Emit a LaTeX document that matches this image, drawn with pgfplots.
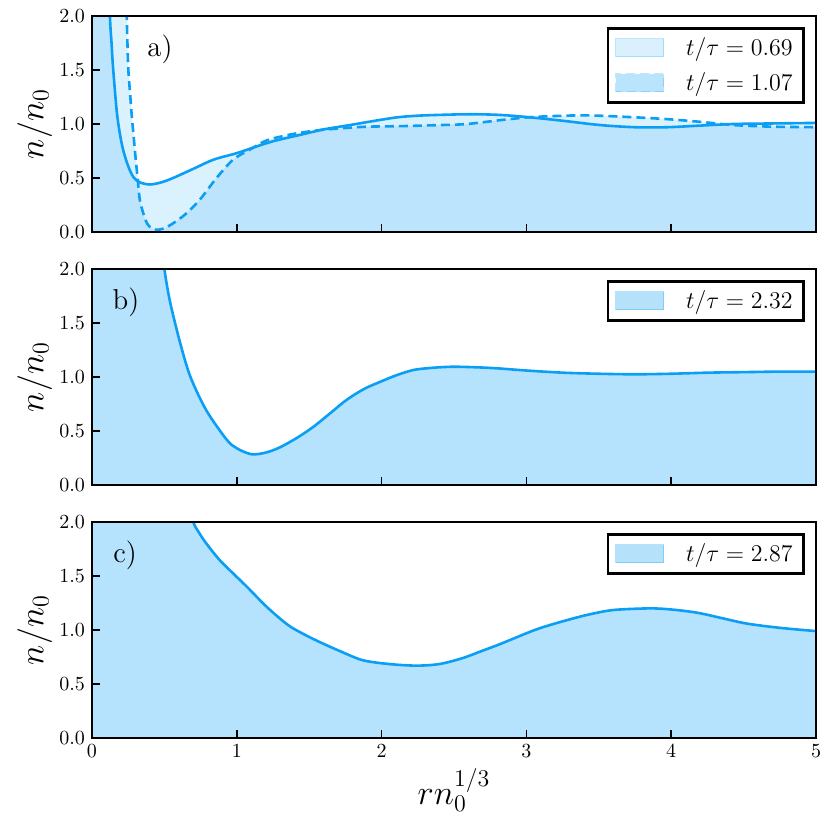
\documentclass[border=0pt]{standalone}
\usepackage{pgfplots}
\pgfplotsset{compat=1.18}
\definecolor{cblue}{RGB}{10,158,245}
\pgfplotsset{
 myaxis/.style={scale only axis, width=362pt, height=108pt,
  xmin=0,xmax=5,ymin=0,ymax=2,
  xtick={0,1,2,3,4,5}, ytick={0,0.5,1,1.5,2},
  tick align=inside, xtick pos=bottom, ytick pos=left,
  major tick length=4pt,
  axis line style={line width=1pt},
  tick style={line width=0.8pt, color=black},
  yticklabel style={/pgf/number format/fixed, /pgf/number format/fixed zerofill, /pgf/number format/precision=1},
  ylabel={$n/n_0$},
  ylabel style={font=\LARGE, at={(axis description cs:-0.079,0.5)}, anchor=center},
  axis on top,
  legend style={at={(axis description cs:1,1)}, anchor=north east, xshift=-5.5pt, yshift=-5.5pt,
    draw=black, line width=1.3pt, font=\large, inner xsep=3.5pt, inner ysep=2.5pt, row sep=3pt, column sep=9pt},
  legend cell align=left,
  legend image code/.code={\draw[##1, line width=0.6pt] (0pt,-4.5pt) rectangle (24pt,4.5pt);},
 },
 curve/.style={draw=cblue, line width=1.3pt, smooth, tension=0.5},
 fillc/.style={draw=none, fill=cblue, smooth, tension=0.5, forget plot},
}
\begin{document}
\begin{tikzpicture}
\path[use as bounding box] (-46pt,-46pt) rectangle (369pt,369pt);
% panel a
\begin{axis}[myaxis, at={(0pt,253pt)}, anchor=south west, xticklabels={}]
\addplot[fillc, fill opacity=0.15] coordinates {
(0,4) (0.10,4) (0.118,2.6) (0.124,2.0) (0.135,1.75) (0.145,1.53) (0.17,1.13) (0.19,0.93) (0.215,0.76) (0.25,0.61) (0.285,0.51) (0.33,0.46) (0.40,0.44) (0.48,0.46) (0.56,0.50) (0.70,0.585) (0.84,0.67) (1.0,0.73) (1.11,0.78) (1.25,0.84) (1.44,0.90) (1.6,0.95) (1.78,0.99) (2.0,1.04) (2.13,1.065) (2.3,1.08) (2.59,1.09) (2.8,1.085) (3.0,1.065) (3.25,1.03) (3.51,0.99) (3.75,0.97) (3.97,0.97) (4.2,0.985) (4.43,1.0) (4.7,1.005) (5.0,1.01)
} \closedcycle;
\addplot[fillc, fill opacity=0.15] coordinates {
(0,4) (0.22,4) (0.235,2.4) (0.24,2.0) (0.25,1.53) (0.262,1.3) (0.275,1.07) (0.29,0.85) (0.30,0.70) (0.315,0.50) (0.33,0.30) (0.355,0.17) (0.38,0.08) (0.41,0.035) (0.45,0.02) (0.50,0.035) (0.56,0.08) (0.65,0.17) (0.745,0.30) (0.86,0.50) (0.975,0.67) (1.1,0.77) (1.21,0.85) (1.38,0.905) (1.55,0.94) (1.72,0.96) (1.90,0.975) (2.13,0.98) (2.4,0.99) (2.59,1.0) (2.85,1.04) (3.05,1.065) (3.39,1.08) (3.7,1.065) (3.97,1.045) (4.2,1.02) (4.43,0.99) (4.7,0.975) (5.0,0.97)
} \closedcycle;
\addplot[curve, forget plot] coordinates {
(0,4) (0.10,4) (0.118,2.6) (0.124,2.0) (0.135,1.75) (0.145,1.53) (0.17,1.13) (0.19,0.93) (0.215,0.76) (0.25,0.61) (0.285,0.51) (0.33,0.46) (0.40,0.44) (0.48,0.46) (0.56,0.50) (0.70,0.585) (0.84,0.67) (1.0,0.73) (1.11,0.78) (1.25,0.84) (1.44,0.90) (1.6,0.95) (1.78,0.99) (2.0,1.04) (2.13,1.065) (2.3,1.08) (2.59,1.09) (2.8,1.085) (3.0,1.065) (3.25,1.03) (3.51,0.99) (3.75,0.97) (3.97,0.97) (4.2,0.985) (4.43,1.0) (4.7,1.005) (5.0,1.01)
};
\addplot[curve, dash pattern=on 4.5pt off 2.5pt, forget plot] coordinates {
(0,4) (0.22,4) (0.235,2.4) (0.24,2.0) (0.25,1.53) (0.262,1.3) (0.275,1.07) (0.29,0.85) (0.30,0.70) (0.315,0.50) (0.33,0.30) (0.355,0.17) (0.38,0.08) (0.41,0.035) (0.45,0.02) (0.50,0.035) (0.56,0.08) (0.65,0.17) (0.745,0.30) (0.86,0.50) (0.975,0.67) (1.1,0.77) (1.21,0.85) (1.38,0.905) (1.55,0.94) (1.72,0.96) (1.90,0.975) (2.13,0.98) (2.4,0.99) (2.59,1.0) (2.85,1.04) (3.05,1.065) (3.39,1.08) (3.7,1.065) (3.97,1.045) (4.2,1.02) (4.43,0.99) (4.7,0.975) (5.0,0.97)
};
\addlegendimage{fill=cblue, fill opacity=0.15, draw=cblue, draw opacity=0.25}
\addlegendentry{$t/\tau = 0.69$}
\addlegendimage{fill=cblue, fill opacity=0.28, draw=cblue, draw opacity=0.25, dash pattern=on 4.5pt off 2.5pt}
\addlegendentry{$t/\tau = 1.07$}
\node[anchor=west, inner sep=0pt, font=\Large] at (axis cs:0.38,1.69) {a)};
\end{axis}
% panel b
\begin{axis}[myaxis, at={(0pt,126.5pt)}, anchor=south west, xticklabels={}]
\addplot[fillc, fill opacity=0.3] coordinates {
(0,4) (0.45,4) (0.48,2.3) (0.50,2.0) (0.54,1.69) (0.61,1.31) (0.68,1.0) (0.79,0.69) (0.93,0.42) (1.0,0.34) (1.10,0.285) (1.2,0.30) (1.30,0.35) (1.42,0.44) (1.53,0.54) (1.65,0.67) (1.76,0.79) (1.88,0.89) (1.99,0.955) (2.1,1.015) (2.22,1.065) (2.35,1.085) (2.49,1.095) (2.65,1.09) (2.80,1.08) (3.0,1.06) (3.25,1.04) (3.5,1.03) (3.75,1.025) (4.0,1.03) (4.25,1.04) (4.5,1.045) (4.75,1.05) (5.0,1.05)
} \closedcycle;
\addplot[curve, forget plot] coordinates {
(0,4) (0.45,4) (0.48,2.3) (0.50,2.0) (0.54,1.69) (0.61,1.31) (0.68,1.0) (0.79,0.69) (0.93,0.42) (1.0,0.34) (1.10,0.285) (1.2,0.30) (1.30,0.35) (1.42,0.44) (1.53,0.54) (1.65,0.67) (1.76,0.79) (1.88,0.89) (1.99,0.955) (2.1,1.015) (2.22,1.065) (2.35,1.085) (2.49,1.095) (2.65,1.09) (2.80,1.08) (3.0,1.06) (3.25,1.04) (3.5,1.03) (3.75,1.025) (4.0,1.03) (4.25,1.04) (4.5,1.045) (4.75,1.05) (5.0,1.05)
};
\addlegendimage{fill=cblue, fill opacity=0.3, draw=cblue, draw opacity=0.3}
\addlegendentry{$t/\tau = 2.32$}
\node[anchor=west, inner sep=0pt, font=\Large] at (axis cs:0.14,1.69) {b)};
\end{axis}
% panel c
\begin{axis}[myaxis, at={(0pt,0pt)}, anchor=south west,
  xlabel={$rn_0^{1/3}$}, xlabel style={font=\LARGE, at={(axis description cs:0.5,-0.24)}, anchor=center}]
\addplot[fillc, fill opacity=0.3] coordinates {
(0,4) (0.65,4) (0.68,2.2) (0.70,2.0) (0.74,1.9) (0.79,1.80) (0.88,1.65) (0.97,1.53) (1.07,1.40) (1.21,1.21) (1.35,1.05) (1.45,0.97) (1.57,0.89) (1.72,0.80) (1.87,0.72) (2.05,0.685) (2.24,0.67) (2.4,0.685) (2.56,0.74) (2.7,0.81) (2.8,0.86) (2.91,0.92) (3.0,0.97) (3.1,1.02) (3.25,1.08) (3.42,1.14) (3.60,1.185) (3.85,1.20) (4.0,1.19) (4.18,1.16) (4.35,1.11) (4.52,1.06) (4.75,1.02) (5.0,0.99)
} \closedcycle;
\addplot[curve, forget plot] coordinates {
(0,4) (0.65,4) (0.68,2.2) (0.70,2.0) (0.74,1.9) (0.79,1.80) (0.88,1.65) (0.97,1.53) (1.07,1.40) (1.21,1.21) (1.35,1.05) (1.45,0.97) (1.57,0.89) (1.72,0.80) (1.87,0.72) (2.05,0.685) (2.24,0.67) (2.4,0.685) (2.56,0.74) (2.7,0.81) (2.8,0.86) (2.91,0.92) (3.0,0.97) (3.1,1.02) (3.25,1.08) (3.42,1.14) (3.60,1.185) (3.85,1.20) (4.0,1.19) (4.18,1.16) (4.35,1.11) (4.52,1.06) (4.75,1.02) (5.0,0.99)
};
\addlegendimage{fill=cblue, fill opacity=0.3, draw=cblue, draw opacity=0.3}
\addlegendentry{$t/\tau = 2.87$}
\node[anchor=west, inner sep=0pt, font=\Large] at (axis cs:0.145,1.69) {c)};
\end{axis}
\end{tikzpicture}
\end{document}
